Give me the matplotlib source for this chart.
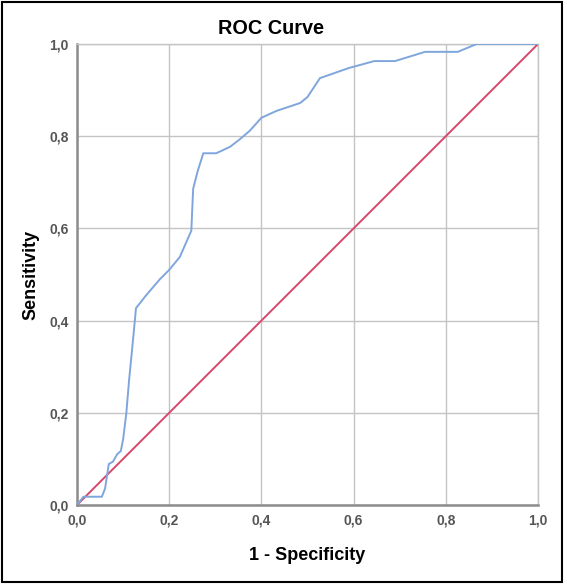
import numpy as np
import matplotlib.pyplot as plt
from matplotlib.patches import Rectangle

plt.rcParams['font.family'] = ['Liberation Sans', 'DejaVu Sans']

# ROC curve points (1 - specificity, sensitivity)
fpr = [0.0, 0.014, 0.054, 0.061, 0.069, 0.078, 0.087, 0.095, 0.10, 0.107, 0.113,
       0.12, 0.128, 0.15, 0.18, 0.200, 0.223, 0.248, 0.252, 0.262, 0.274,
       0.302, 0.332, 0.354, 0.375, 0.400, 0.433, 0.484, 0.50, 0.527, 0.59,
       0.645, 0.69, 0.755, 0.826, 0.867, 1.0]
tpr = [0.0, 0.018, 0.018, 0.036, 0.089, 0.094, 0.11, 0.117, 0.142, 0.199, 0.271,
       0.342, 0.427, 0.455, 0.49, 0.51, 0.538, 0.595, 0.686, 0.725, 0.763,
       0.763, 0.777, 0.794, 0.812, 0.84, 0.855, 0.872, 0.885, 0.926, 0.948,
       0.963, 0.963, 0.983, 0.983, 1.0, 1.0]
ref_line = [0.0, 1.0]
ticks = [0.0, 0.2, 0.4, 0.6, 0.8, 1.0]
tick_labels = ['0,0', '0,2', '0,4', '0,6', '0,8', '1,0']

fig = plt.figure(figsize=(5.64, 5.86), dpi=100)
fig.patches.append(Rectangle((0.004, 0.006), 0.992, 0.99, transform=fig.transFigure,
                             fill=False, edgecolor='black', linewidth=1.5))

ax = fig.add_axes([0.1365, 0.1382, 0.8174, 0.7867])
ax.plot(ref_line, ref_line, color='#d9486a', linewidth=1.4, zorder=3)
ax.plot(fpr, tpr, color='#7fa6dc', linewidth=1.4, zorder=4)

ax.set_xlim(0, 1)
ax.set_ylim(0, 1)
ax.set_xticks(ticks)
ax.set_yticks(ticks)
ax.set_xticklabels(tick_labels)
ax.set_yticklabels(tick_labels)
ax.tick_params(length=0, labelsize=10, labelcolor='#555555', pad=6)
for lbl in ax.get_xticklabels() + ax.get_yticklabels():
    lbl.set_fontweight('bold')

ax.grid(True, color='#c4c4c4', linewidth=1.0)
ax.set_axisbelow(True)
for side in ['top', 'right']:
    ax.spines[side].set_color('#c4c4c4')
    ax.spines[side].set_linewidth(1.0)
for side in ['left', 'bottom']:
    ax.spines[side].set_color('#8c8c8c')
    ax.spines[side].set_linewidth(1.8)

# title sits left of the axes centre in the original
fig.text(271 / 564, 1 - 28 / 586, 'ROC Curve', fontsize=14.3, fontweight='bold',
         ha='center', va='center')
ax.set_xlabel('1 - Specificity', fontsize=13, fontweight='bold', labelpad=14)
ax.set_ylabel('Sensitivity', fontsize=13, fontweight='bold', labelpad=7)

fig.savefig('out.png', dpi=100)
